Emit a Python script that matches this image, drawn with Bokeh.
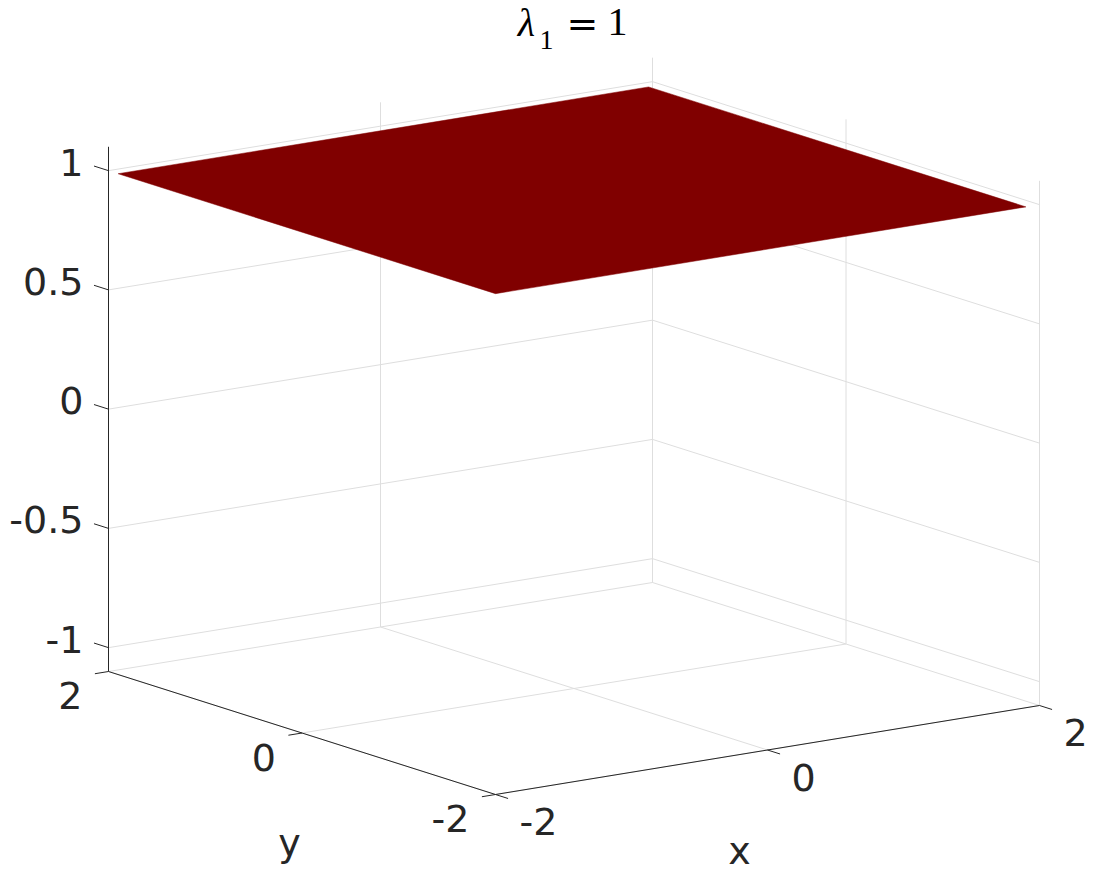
import numpy as np
from bokeh.plotting import figure
from bokeh.models import Range1d
from bokeh.core.properties import value
from bokeh.embed import file_html
from bokeh.resources import INLINE

# ---------------- data ----------------
surf_x = [-2.0, 1.9]
surf_y = [-2.0, 1.9]
surf_z = [[1.0, 1.0], [1.0, 1.0]]

x_ticks = [-2, 0, 2]
y_ticks = [-2, 0, 2]
z_ticks = [-1, -0.5, 0, 0.5, 1]
x_tick_labels = ["-2", "0", "2"]
y_tick_labels = ["-2", "0", "2"]
z_tick_labels = ["-1", "-0.5", "0", "0.5", "1"]
x_label = "x"
y_label = "y"
title_parts = ["λ", "1", "=", "1"]

XLIM = [-2.0, 2.0]
YLIM = [-2.0, 2.0]
ZLIM = [-1.1, 1.1]

# ---------------- layout (projection of the 3-D box on the page) ----------------
O = (495.0, 794.0)          # screen position of (xmin, ymin, zmin)
EX = (136.0, -22.25)        # screen step per unit x
EY = (-96.75, -30.75)       # screen step per unit y
EZ = (0.0, -238.5)          # screen step per unit z

def P(x, y, z):
    dx, dy, dz = x - XLIM[0], y - YLIM[0], z - ZLIM[0]
    return (O[0] + dx * EX[0] + dy * EY[0] + dz * EZ[0],
            O[1] + dx * EX[1] + dy * EY[1] + dz * EZ[1])

def seg(a, b):
    x0, y0 = P(*a)
    x1, y1 = P(*b)
    return [x0, x1], [y0, y1]

W, H = 1093, 875
p = figure(width=W, height=H, output_backend="svg", toolbar_location=None,
           x_range=Range1d(0, W), y_range=Range1d(H, 0),
           min_border=0, outline_line_color=None)
p.axis.visible = False
p.grid.visible = False
p.background_fill_color = "white"
p.border_fill_color = "white"

zmin, zmax = ZLIM
xmin, xmax = XLIM
ymin, ymax = YLIM

# grid lines on the back walls and floor
gxs, gys = [], []
for z in z_ticks:
    for a, b in [((xmin, ymax, z), (xmax, ymax, z)), ((xmax, ymax, z), (xmax, ymin, z))]:
        sx, sy = seg(a, b); gxs.append(sx); gys.append(sy)
for x in x_ticks:
    for a, b in [((x, ymax, zmin), (x, ymax, zmax)), ((x, ymax, zmin), (x, ymin, zmin))]:
        sx, sy = seg(a, b); gxs.append(sx); gys.append(sy)
for y in y_ticks:
    for a, b in [((xmax, y, zmin), (xmax, y, zmax)), ((xmin, y, zmin), (xmax, y, zmin))]:
        sx, sy = seg(a, b); gxs.append(sx); gys.append(sy)
p.multi_line(gxs, gys, line_color="#dedede", line_width=1)

# axis lines
axc = "#262626"
axs, ays = [], []
for a, b in [((xmin, ymax, zmin), (xmin, ymax, zmax)),
             ((xmin, ymax, zmin), (xmin, ymin, zmin)),
             ((xmin, ymin, zmin), (xmax, ymin, zmin))]:
    sx, sy = seg(a, b); axs.append(sx); ays.append(sy)
# tick marks
for z in z_ticks:
    sx, sy = seg((xmin, ymax, z), (xmin, ymax + 0.15, z)); axs.append(sx); ays.append(sy)
for y in y_ticks:
    sx, sy = seg((xmin, y, zmin), (xmin - 0.1, y, zmin)); axs.append(sx); ays.append(sy)
for x in x_ticks:
    sx, sy = seg((x, ymin, zmin), (x, ymin - 0.13, zmin)); axs.append(sx); ays.append(sy)
p.multi_line(axs, ays, line_color=axc, line_width=1)

# surface
cx, cy = [], []
for (i, j) in [(0, 0), (1, 0), (1, 1), (0, 1)]:
    sx, sy = P(surf_x[i], surf_y[j], surf_z[j][i])
    cx.append(sx); cy.append(sy)
p.patch(cx, cy, fill_color="#800000", line_color="#800000", line_width=0.5)

font = value("DejaVu Sans")
FS = 38
fs = f"{FS}px"
SH = 0.41  # baseline correction (fraction of font size)

# z tick labels
zx, zy = [], []
for z in z_ticks:
    sx, sy = P(xmin, ymax, z)
    zx.append(sx - 25); zy.append(sy + 7 - SH * FS)
p.text(zx, zy, text=z_tick_labels, text_font=font, text_font_size=fs,
       text_color=axc, text_align="right", text_baseline="alphabetic")

# y tick labels
yx, yy = [], []
for y in y_ticks:
    sx, sy = P(xmin, y, zmin)
    yx.append(sx - 26); yy.append(sy + 40 - SH * FS)
p.text(yx, yy, text=y_tick_labels, text_font=font, text_font_size=fs,
       text_color=axc, text_align="right", text_baseline="alphabetic")

# x tick labels
xx, xy = [], []
for x in x_ticks:
    sx, sy = P(x, ymin, zmin)
    xx.append(sx + 24); xy.append(sy + 43 - SH * FS)
p.text(xx, xy, text=x_tick_labels, text_font=font, text_font_size=fs,
       text_color=axc, text_align="left", text_baseline="alphabetic")

# axis labels
p.text([289], [858 - SH * FS], text=[y_label], text_font=font, text_font_size=fs,
       text_color=axc, text_align="center", text_baseline="alphabetic")
p.text([739], [866 - SH * FS], text=[x_label], text_font=font, text_font_size=fs,
       text_color=axc, text_align="center", text_baseline="alphabetic")

# title  λ_1 = 1
serif = value("Liberation Serif")
p.text([526], [38 - SH * 40], text=[title_parts[0]], text_font=serif, text_font_size="40px",
       text_font_style="italic", text_color="black", text_align="center",
       text_baseline="alphabetic")
p.text([546], [51 - SH * 28], text=[title_parts[1]], text_font=serif, text_font_size="28px",
       text_color="black", text_align="center", text_baseline="alphabetic")
p.text([582], [39 - SH * 38], text=[title_parts[2]], text_font=value("DejaVu Serif"),
       text_font_size="38px", text_color="black", text_align="center",
       text_baseline="alphabetic")
p.text([617], [38 - SH * 40], text=[title_parts[3]], text_font=serif, text_font_size="40px",
       text_color="black", text_align="center", text_baseline="alphabetic")

open("out.html", "w").write(file_html(p, INLINE))
